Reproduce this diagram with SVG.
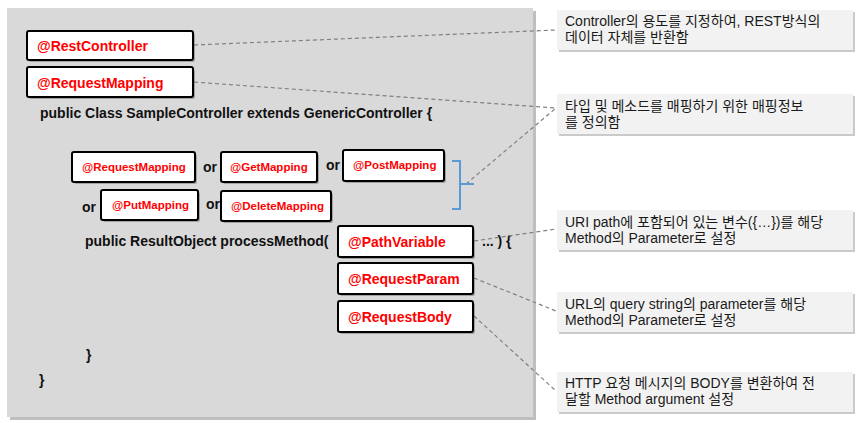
<svg xmlns="http://www.w3.org/2000/svg" width="857" height="423" viewBox="0 0 857 423">
<style>
.code{font-family:"Liberation Sans","Noto Sans CJK KR",sans-serif;font-weight:bold;font-size:14px;fill:#111111}
.ann{font-family:"Liberation Sans","Noto Sans CJK KR",sans-serif;font-weight:bold;fill:#ff0000}
.big{font-size:14px}
.small{font-size:11.5px}
.nb{fill:#ffffff;stroke:#000000;stroke-width:2}
.ns{fill:#000000;opacity:0.25}
.cb{fill:#f2f2f2}
.cs{fill:#a6a6a6;opacity:0.6}
.ct{font-family:"Liberation Sans","Noto Sans CJK KR",sans-serif;font-size:14px;fill:#1a1a1a}
.conn{fill:none;stroke:#808080;stroke-width:1.2;stroke-dasharray:4 3}
</style>
<rect x="0" y="0" width="857" height="423" fill="#ffffff"/>
<g id="panel">
<rect x="10" y="11" width="526" height="409" fill="#bfbfbf"/>
<rect x="7" y="8" width="526" height="409" fill="#d9d9d9"/>
<text class="code" x="40" y="118">public Class SampleController extends GenericController {</text>
<text class="code" x="203" y="172" font-size="13">or</text>
<text class="code" x="326" y="170" font-size="13">or</text>
<text class="code" x="82" y="212" font-size="13">or</text>
<text class="code" x="206" y="209" font-size="13">or</text>
<text class="code" x="85" y="246">public ResultObject processMethod(</text>
<text class="code" x="482" y="246">... ) {</text>
<text class="code" x="86" y="360">}</text>
<text class="code" x="39" y="385">}</text>
</g>
<g id="connectors">
<line class="conn" x1="194" y1="45" x2="556" y2="30"/>
<line class="conn" x1="194" y1="82" x2="556" y2="108"/>
<line class="conn" x1="466" y1="184" x2="556" y2="108"/>
<line class="conn" x1="474" y1="241" x2="556" y2="229"/>
<line class="conn" x1="474" y1="278" x2="556" y2="311"/>
<line class="conn" x1="474" y1="316" x2="556" y2="391"/>
</g>
<g id="bracket">
<path d="M452,161 H460 V209 H452 M460,184 H474" fill="none" stroke="#5b9bd5" stroke-width="2"/>
</g>
<g id="restController">
<rect class="ns" x="29" y="33" width="166" height="29" rx="2"/>
<rect class="nb" x="27" y="31" width="166" height="29" rx="2"/>
<text class="ann big" x="37" y="51">@RestController</text>
</g>
<g id="requestMapping">
<rect class="ns" x="29" y="69" width="166" height="30" rx="2"/>
<rect class="nb" x="27" y="67" width="166" height="30" rx="2"/>
<text class="ann big" x="37" y="88">@RequestMapping</text>
</g>
<g id="requestMapping2">
<rect class="ns" x="74" y="154" width="123" height="30" rx="2"/>
<rect class="nb" x="72" y="152" width="123" height="30" rx="2"/>
<text class="ann small" x="82" y="171">@RequestMapping</text>
</g>
<g id="getMapping">
<rect class="ns" x="223" y="154" width="96" height="30" rx="2"/>
<rect class="nb" x="221" y="152" width="96" height="30" rx="2"/>
<text class="ann small" x="230" y="171">@GetMapping</text>
</g>
<g id="postMapping">
<rect class="ns" x="345" y="152" width="101" height="31" rx="2"/>
<rect class="nb" x="343" y="150" width="101" height="31" rx="2"/>
<text class="ann small" x="353" y="169">@PostMapping</text>
</g>
<g id="putMapping">
<rect class="ns" x="103" y="192" width="97" height="30" rx="2"/>
<rect class="nb" x="101" y="190" width="97" height="30" rx="2"/>
<text class="ann small" x="112" y="209">@PutMapping</text>
</g>
<g id="deleteMapping">
<rect class="ns" x="223" y="193" width="110" height="30" rx="2"/>
<rect class="nb" x="221" y="191" width="110" height="30" rx="2"/>
<text class="ann small" x="231" y="210">@DeleteMapping</text>
</g>
<g id="pathVariable">
<rect class="ns" x="340" y="228" width="135" height="31" rx="2"/>
<rect class="nb" x="338" y="226" width="135" height="31" rx="2"/>
<text class="ann big" x="348" y="247">@PathVariable</text>
</g>
<g id="requestParam">
<rect class="ns" x="340" y="265" width="135" height="31" rx="2"/>
<rect class="nb" x="338" y="263" width="135" height="31" rx="2"/>
<text class="ann big" x="348" y="284">@RequestParam</text>
</g>
<g id="requestBody">
<rect class="ns" x="340" y="303" width="135" height="31" rx="2"/>
<rect class="nb" x="338" y="301" width="135" height="31" rx="2"/>
<text class="ann big" x="348" y="322">@RequestBody</text>
</g>
<g id="note1">
<rect class="cs" x="559" y="12" width="296" height="40"/>
<rect class="cb" x="557" y="10" width="296" height="40"/>
<text class="ct" x="565" y="26">Controller의 용도를 지정하여, REST방식의</text>
<text class="ct" x="565" y="42">데이터 자체를 반환함</text>
</g>
<g id="note2">
<rect class="cs" x="559" y="96" width="296" height="40"/>
<rect class="cb" x="557" y="94" width="296" height="40"/>
<text class="ct" x="565" y="111">타입 및 메소드를 매핑하기 위한 매핑정보</text>
<text class="ct" x="565" y="127">를 정의함</text>
</g>
<g id="note3">
<rect class="cs" x="559" y="212" width="296" height="40"/>
<rect class="cb" x="557" y="210" width="296" height="40"/>
<text class="ct" x="565" y="227">URI path에 포함되어 있는 변수({…})를 해당</text>
<text class="ct" x="565" y="243">Method의 Parameter로 설정</text>
</g>
<g id="note4">
<rect class="cs" x="559" y="294" width="296" height="40"/>
<rect class="cb" x="557" y="292" width="296" height="40"/>
<text class="ct" x="565" y="309">URL의 query string의 parameter를 해당</text>
<text class="ct" x="565" y="325">Method의 Parameter로 설정</text>
</g>
<g id="note5">
<rect class="cs" x="559" y="374" width="296" height="40"/>
<rect class="cb" x="557" y="372" width="296" height="40"/>
<text class="ct" x="565" y="388">HTTP 요청 메시지의 BODY를 변환하여 전</text>
<text class="ct" x="565" y="404">달할 Method argument 설정</text>
</g>
</svg>
